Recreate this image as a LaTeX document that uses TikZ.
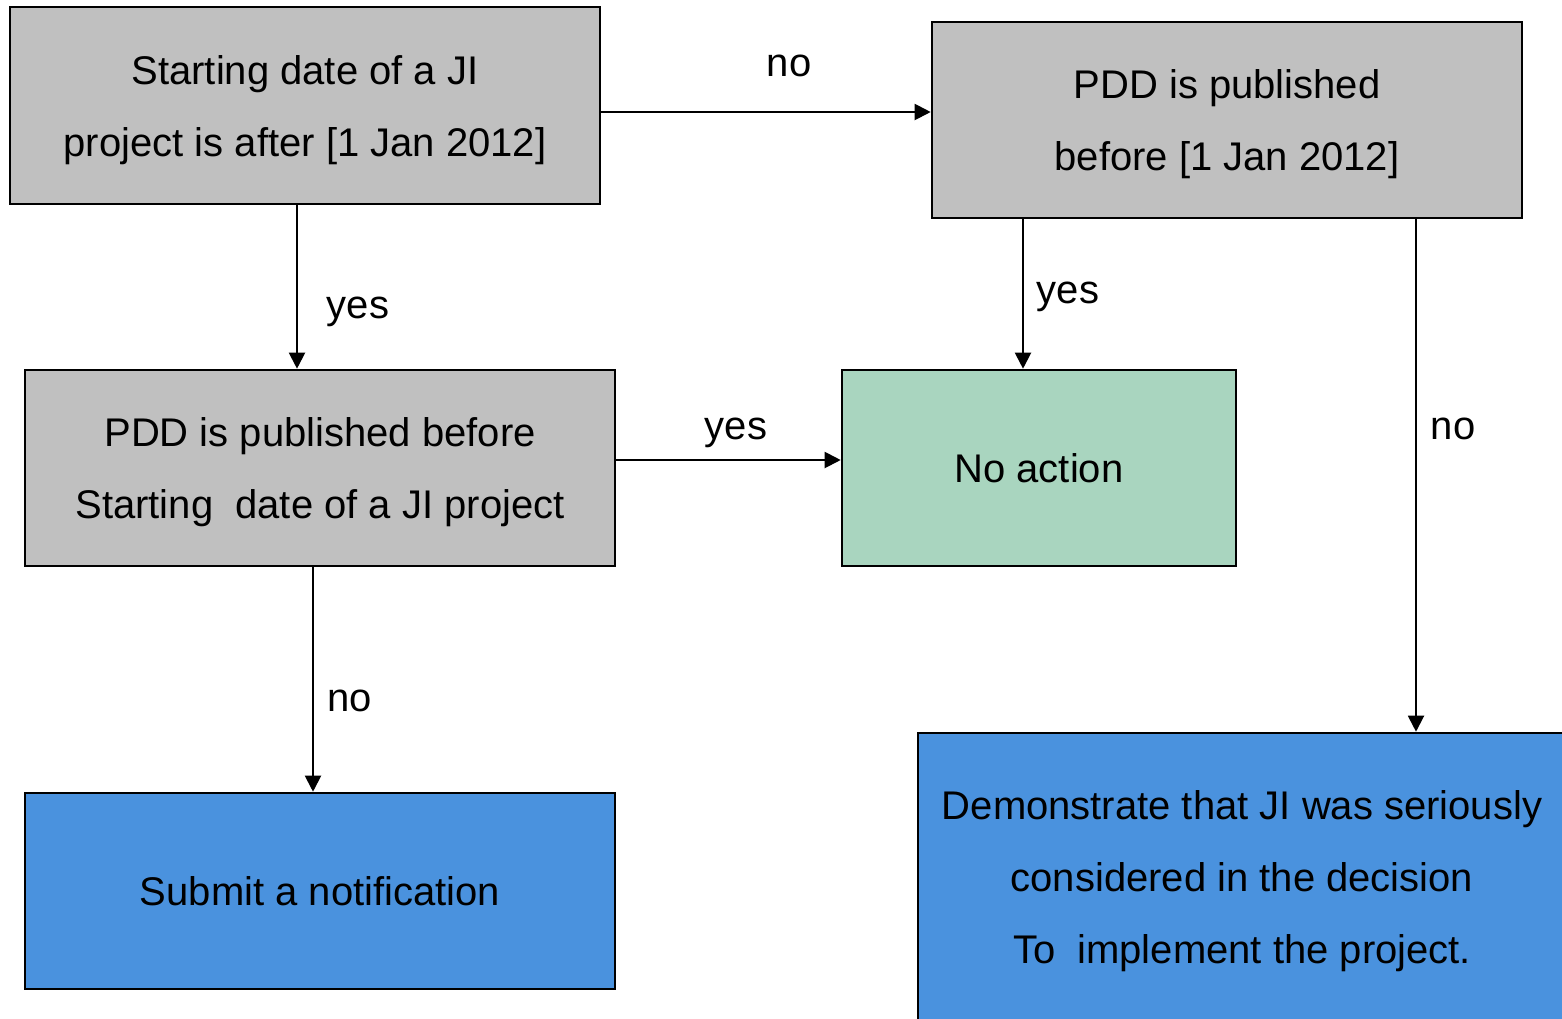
\documentclass[tikz,border=0pt]{standalone}
\usepackage{fontspec}
\setmainfont{Liberation Sans}
\usetikzlibrary{arrows.meta}
\definecolor{boxgray}{HTML}{C0C0C0}
\definecolor{boxgreen}{HTML}{A9D5BF}
\definecolor{boxblue}{HTML}{4A92DE}
\newcommand{\mytopstrut}{\rule{0pt}{18.8pt}}
\begin{document}
\begin{tikzpicture}[x=0.5pt,y=-0.5pt,
  box/.style={draw=black, line width=1.3pt, inner sep=0pt, align=center,
    font=\fontsize{20}{36}\selectfont},
  arr/.style={draw=black, line width=1pt, -{Triangle[length=8pt,width=8pt]}},
  lbl/.style={anchor=base, inner sep=0pt, font=\fontsize{20}{24}\selectfont}]
\useasboundingbox (0,0) rectangle (1562,1018);
\clip (0,0) rectangle (1562,1018);

\node[box, fill=boxgray, minimum width=295pt, minimum height=98.5pt] (n1) at (305,105.5)
  {\mytopstrut Starting date of a JI\\project is after [1 Jan 2012]};
\node[box, fill=boxgray, minimum width=295pt, minimum height=98pt] (n2) at (1227,120)
  {\mytopstrut PDD is published\\before [1 Jan 2012]};
\node[box, fill=boxgray, minimum width=295pt, minimum height=98pt] (n3) at (320,468)
  {\mytopstrut PDD is published before\\Starting\ \ date of a JI project};
\node[box, fill=boxgreen, minimum width=197pt, minimum height=98pt] (n4) at (1039,468)
  {No action};
\node[box, fill=boxblue, minimum width=295pt, minimum height=98pt] (n5) at (320,891)
  {Submit a notification};
\node[box, fill=boxblue, minimum width=324pt, minimum height=144pt] (n6) at (1242,877)
  {\mytopstrut Demonstrate that JI was seriously\\considered in the decision\\To\ \ implement the project.};

\coordinate (r1) at (0,112);
\coordinate (r2) at (0,460);
\coordinate (c1) at (297,0);
\coordinate (c2) at (1023,0);
\coordinate (c3) at (1416,0);
\coordinate (c4) at (313,0);

\draw[arr] (n1.east |- r1) -- (n2.west |- r1);
\draw[arr] (n1.south -| c1) -- (n3.north -| c1);
\draw[arr] (n2.south -| c2) -- (n4.north -| c2);
\draw[arr] (n2.south -| c3) -- (n6.north -| c3);
\draw[arr] (n3.east |- r2) -- (n4.west |- r2);
\draw[arr] (n3.south -| c4) -- (n5.north -| c4);

\node[lbl] (l1) at (789,76.5) {no};
\node[lbl] (l2) at (358,318.5) {yes};
\node[lbl] (l3) at (1068,303) {yes};
\node[lbl] (l4) at (1453,439) {no};
\node[lbl] (l5) at (736,439) {yes};
\node[lbl] (l6) at (350,711) {no};
\end{tikzpicture}
\end{document}
